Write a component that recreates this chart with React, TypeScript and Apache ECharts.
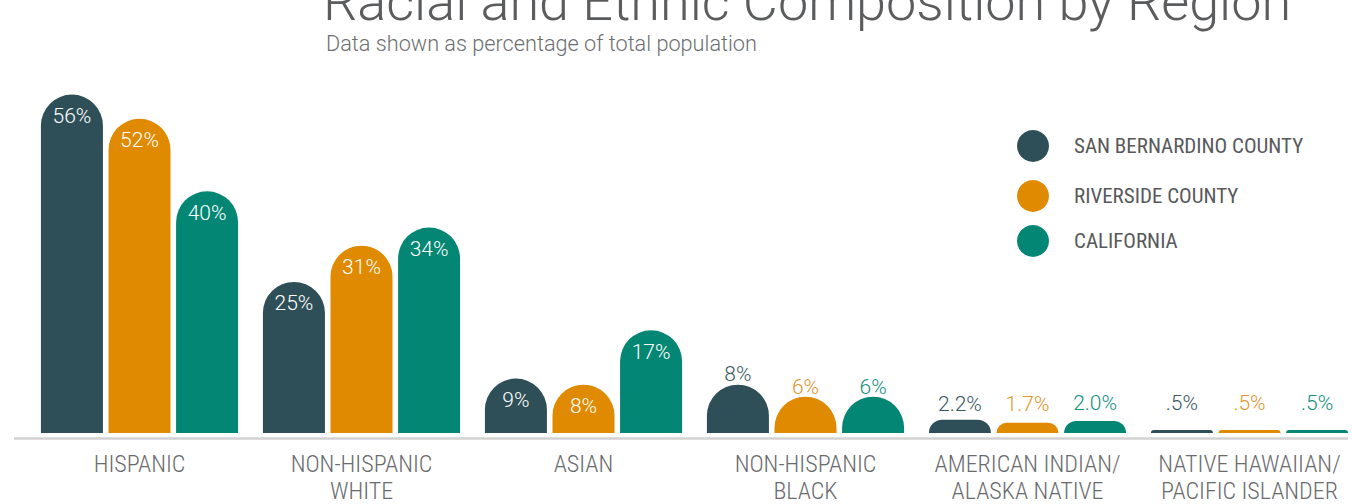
import React, { useEffect, useRef } from "react";
import * as echarts from "echarts";

const categories = [
  "HISPANIC",
  "NON-HISPANIC\nWHITE",
  "ASIAN",
  "NON-HISPANIC\nBLACK",
  "AMERICAN INDIAN/\nALASKA NATIVE",
  "NATIVE HAWAIIAN/\nPACIFIC ISLANDER",
];

const seriesNames = ["SAN BERNARDINO COUNTY", "RIVERSIDE COUNTY", "CALIFORNIA"];

const sanBernardino = [56, 25, 9, 8, 2.2, 0.5];
const riverside = [52, 31, 8, 6, 1.7, 0.5];
const california = [40, 34, 17, 6, 2.0, 0.5];

const sanBernardinoLabels = ["56%", "25%", "9%", "8%", "2.2%", ".5%"];
const riversideLabels = ["52%", "31%", "8%", "6%", "1.7%", ".5%"];
const californiaLabels = ["40%", "34%", "17%", "6%", "2.0%", ".5%"];

const colors = ["#2e4f57", "#df8a00", "#038674"];
const labelColors = ["#3a5961", "#e4952a", "#14907e"];

const insideCount = 3;
const outsideDistance = [
  [0, 5, 16],
  [-1, 8, 16],
  [-1, 7, 16],
];

const condensed = "'Liberation Sans Narrow', 'Roboto Condensed', 'DejaVu Sans Condensed', Roboto, sans-serif";

export default function App() {
  const ref = useRef<HTMLDivElement>(null);

  useEffect(() => {
    if (!ref.current) return;
    const chart = echarts.init(ref.current, undefined, { renderer: "svg" });
    const values = [sanBernardino, riverside, california];
    const labels = [sanBernardinoLabels, riversideLabels, californiaLabels];

    const series = values.map((vals, si) => ({
      name: seriesNames[si],
      type: "bar",
      barWidth: 62,
      barGap: "9%",
      itemStyle: { color: colors[si], borderRadius: [31, 31, 0, 0] },
      data: vals.map((v, di) => {
        const inside = di < insideCount;
        return {
          value: v,
          label: inside
            ? {
                show: true,
                position: "insideTop",
                distance: 11,
                color: "#ffffff",
              }
            : {
                show: true,
                position: "top",
                distance: outsideDistance[si][di - insideCount],
                color: labelColors[si],
              },
        };
      }),
      label: {
        show: true,
        fontFamily: "Roboto, sans-serif",
        fontWeight: 300,
        fontSize: 21,
        formatter: (p: any) => labels[si][p.dataIndex],
      },
    }));

    const legendTops = [130, 180, 225];
    const legends = seriesNames.map((n, i) => ({
      data: [n],
      left: 1017,
      top: legendTops[i],
      padding: 0,
      orient: "vertical",
      icon: "circle",
      itemWidth: 32,
      itemHeight: 32,
      selectedMode: false,
      textStyle: {
        fontFamily: condensed,
        fontSize: 21,
        color: "#58595b",
        padding: [0, 0, 0, 20],
      },
    }));

    chart.setOption({
      animation: false,
      color: colors,
      title: [
        {
          text: "Racial and Ethnic Composition by Region",
          left: 323,
          top: -26,
          padding: 0,
          textStyle: {
            fontFamily: "Roboto, sans-serif",
            fontWeight: 300,
            fontSize: 54,
            color: "#5b5c5e",
          },
        },
        {
          text: "Data shown as percentage of total population",
          left: 326,
          top: 32,
          padding: 0,
          textStyle: {
            fontFamily: "Roboto, sans-serif",
            fontWeight: 300,
            fontSize: 21.7,
            color: "#6d6e71",
          },
        },
      ],
      legend: legends,
      grid: { left: 28.5, right: 39.5, top: 10, bottom: 67 },
      xAxis: {
        type: "category",
        data: categories,
        axisLine: { show: false },
        axisTick: { show: false },
        axisLabel: {
          interval: 0,
          margin: 17,
          fontFamily: condensed,
          fontWeight: 300,
          fontSize: 24,
          lineHeight: 27,
          color: "#6a6b6e",
        },
      },
      yAxis: {
        type: "value",
        min: 0,
        max: 70,
        show: false,
        splitLine: { show: false },
      },
      graphic: [
        {
          type: "line",
          shape: { x1: 14, y1: 438.5, x2: 1348, y2: 438.5 },
          style: { stroke: "#d2d2d2", lineWidth: 2.5 },
          z: 0,
        },
      ],
      series,
    });

    return () => chart.dispose();
  }, []);

  return (
    <div style={{ position: "fixed", left: 0, top: 0, width: 1352, height: 504, overflow: "hidden", background: "#fff" }}>
      <div ref={ref} style={{ position: "absolute", left: 0, top: 0, width: 1400, height: 504 }} />
    </div>
  );
}
